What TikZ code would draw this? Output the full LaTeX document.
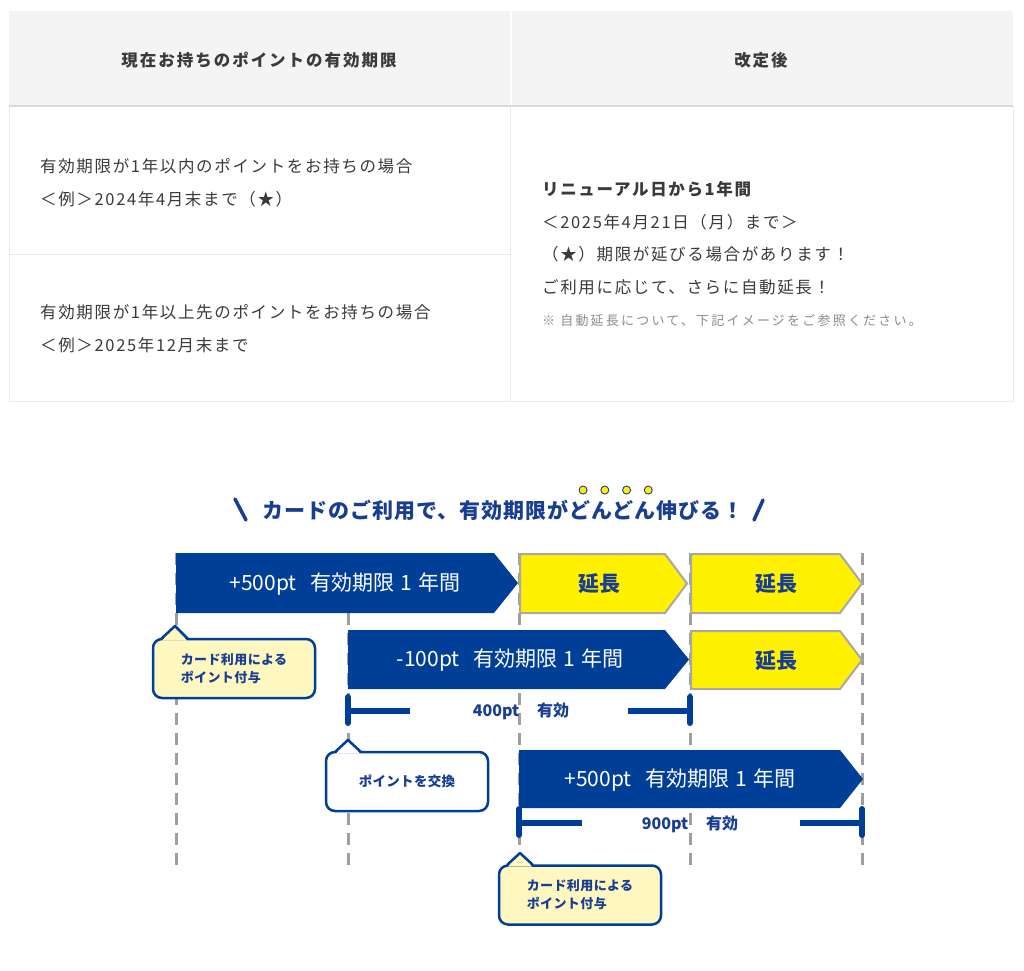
\documentclass[tikz,border=0pt]{standalone}
\usepackage{fontspec}
\setmainfont{Noto Sans CJK JP}
\usetikzlibrary{calc}
\definecolor{navy}{RGB}{0,63,152}
\definecolor{dblue}{RGB}{24,62,145}
\definecolor{ylw}{RGB}{255,241,0}
\definecolor{lylw}{RGB}{255,247,192}
\definecolor{ygray}{RGB}{168,168,168}
\definecolor{dgray}{RGB}{158,158,158}
\definecolor{txt}{RGB}{58,58,58}
\definecolor{notegray}{RGB}{140,140,140}
\definecolor{hdr}{RGB}{244,244,244}
\definecolor{bline}{RGB}{234,234,234}
\definecolor{hline}{RGB}{218,218,218}
\tikzset{
  tbl/.style={anchor=west, inner sep=0pt, text=txt, align=left,
    font=\fontsize{16.5}{33}\selectfont\addfontfeature{LetterSpace=10}},
  tblb/.style={tbl, font=\fontsize{16.5}{33}\selectfont\bfseries\addfontfeature{LetterSpace=10}},
  hdrtext/.style={inner sep=0pt, text=txt,
    font=\fontsize{16.5}{20}\selectfont\bfseries\addfontfeature{LetterSpace=12}},
  notetext/.style={anchor=west, inner sep=0pt, text=notegray,
    font=\fontsize{13}{16}\selectfont\addfontfeature{LetterSpace=17}},
  titletext/.style={anchor=west, inner sep=0pt, text=dblue,
    font=\fontsize{21}{24}\selectfont\bfseries\addfontfeature{LetterSpace=5}},
  blueshape/.style={fill=navy, draw=none},
  ylwshape/.style={fill=ylw, draw=ygray, line width=2pt, line join=miter},
  arrtext/.style={inner sep=0pt, text=white, font=\fontsize{21}{24}\selectfont},
  exttext/.style={inner sep=0pt, text=dblue, font=\fontsize{21}{24}\selectfont\bfseries},
  vline/.style={draw=dgray, line width=3pt, dash pattern=on 12pt off 8pt},
  bar/.style={draw=navy, line width=6pt},
  tick/.style={draw=navy, line width=6pt, line cap=round},
  spantext/.style={inner sep=0pt, text=dblue,
    font=\fontsize{16}{20}\selectfont\bfseries},
  callbox/.style={draw=navy, line width=2.5pt, rounded corners=9pt,
    minimum width=162pt, minimum height=59pt, inner sep=0pt, align=left,
    text=dblue, font=\fontsize{13}{18}\selectfont\bfseries\addfontfeature{LetterSpace=3}},
  callptr/.style={draw=navy, line width=2.5pt, line join=round},
  slash/.style={draw=dblue, line width=3.5pt, line cap=round},
  dot/.style={fill=ylw, draw=dblue, line width=0.9pt},
}
\begin{document}
\begin{tikzpicture}[x=1pt,y=-1pt]
\useasboundingbox (0,0) rectangle (1024,970);
\fill[white] (0,0) rectangle (1024,970);

% ---------- table ----------
\fill[hdr] (9,11) rectangle (509.5,106);
\fill[hdr] (511.5,11) rectangle (1013,106);
\draw[bline, line width=1pt] (9,106) rectangle (510.5,254);
\draw[bline, line width=1pt] (9,254) rectangle (510.5,401);
\draw[bline, line width=1pt] (510.5,106) rectangle (1013,401);
\draw[hline, line width=1.2pt] (9,106) -- (1013,106);

\node[hdrtext] (h1) at (259,60) {現在お持ちのポイントの有効期限};
\node[hdrtext] (h2) at (761,60) {改定後};

\node[tbl] (l1) at (40,182.5) {有効期限が1年以内のポイントをお持ちの場合\\＜例＞2024年4月末まで（★）};
\node[tbl] (l2) at (40,328.5) {有効期限が1年以上先のポイントをお持ちの場合\\＜例＞2025年12月末まで};

\node[tblb] (r1) at (542,189) {リニューアル日から1年間};
\node[tbl] (r2) at (542,222) {＜2025年4月21日（月）まで＞};
\node[tbl] (r3) at (542,254) {（★）期限が延びる場合があります！};
\node[tbl] (r4) at (542,287) {ご利用に応じて、さらに自動延長！};
\node[notetext] (r5) at (542,321) {※ 自動延長について、下記イメージをご参照ください。};

% ---------- title ----------
\draw[slash] (235,499) -- (246,520);
\node[titletext] (t1) at (262,510) {カードのご利用で、有効期限が};
\node[titletext, anchor=west] (t2) at (t1.east) {どんどん};
\node[titletext, anchor=west] (t3) at (t2.east) {伸びる！};
\draw[slash] (763,500) -- (754,520);
\foreach \k in {0.125,0.375,0.625,0.875}
  \path[dot] ($(t2.north west)!\k!(t2.north east)$) ++(3,-10) circle[radius=4pt];

% ---------- dashed guide lines ----------
\coordinate (g1t) at (176,553); \coordinate (g1b) at (176,870);
\coordinate (g2t) at (348,613); \coordinate (g2b) at (348,870);
\coordinate (g3t) at (519,553); \coordinate (g3b) at (519,870);
\coordinate (g4t) at (690,553); \coordinate (g4b) at (690,870);
\coordinate (g5t) at (862,553); \coordinate (g5b) at (862,870);
\draw[vline] (g1t) -- (g1b);
\draw[vline] (g2t) -- (g2b);
\draw[vline] (g3t) -- (g3b);
\draw[vline] (g4t) -- (g4b);
\draw[vline] (g5t) -- (g5b);

% ---------- row 1 ----------
\path[blueshape] (176,553) -- (494,553) -- (518,583) -- (494,613) -- (176,613) -- cycle;
\node[arrtext] (a1) at (345,584) {+500pt\hspace{14pt}有効期限\hspace{6pt}1\hspace{6pt}年間};
\path[ylwshape] (520,554) -- (665,554) -- (687,583.5) -- (665,613) -- (520,613) -- cycle;
\node[exttext] (e1) at (599,584) {延長};
\path[ylwshape] (691,554) -- (840,554) -- (862,583.5) -- (840,613) -- (691,613) -- cycle;
\node[exttext] (e2) at (776,584) {延長};

% ---------- row 2 ----------
\path[blueshape] (348,630) -- (665,630) -- (689,659.5) -- (665,689) -- (348,689) -- cycle;
\node[arrtext] (a2) at (510,660) {-100pt\hspace{14pt}有効期限\hspace{6pt}1\hspace{6pt}年間};
\path[ylwshape] (691,631) -- (840,631) -- (862,660) -- (840,689) -- (691,689) -- cycle;
\node[exttext] (e3) at (776,661) {延長};

\coordinate (s1a) at (348,697); \coordinate (s1b) at (348,723);
\coordinate (s1c) at (690,697); \coordinate (s1d) at (690,723);
\draw[tick] (s1a) -- (s1b);
\draw[tick] (s1c) -- (s1d);
\draw[bar] (348,711) -- (410,711);
\draw[bar] (628,711) -- (690,711);
\node[spantext] (p1) at (521,711) {400pt\hspace{18pt}有効};

% ---------- row 3 ----------
\path[blueshape] (519,750) -- (840,750) -- (863,779) -- (840,808) -- (519,808) -- cycle;
\node[arrtext] (a3) at (680,780) {+500pt\hspace{14pt}有効期限\hspace{6pt}1\hspace{6pt}年間};

\coordinate (s2a) at (519,809); \coordinate (s2b) at (519,835);
\coordinate (s2c) at (862,809); \coordinate (s2d) at (862,835);
\draw[tick] (s2a) -- (s2b);
\draw[tick] (s2c) -- (s2d);
\draw[bar] (519,823) -- (582,823);
\draw[bar] (800,823) -- (862,823);
\node[spantext] (p2) at (690,824) {900pt\hspace{18pt}有効};

% ---------- callouts ----------
\node[callbox, fill=lylw] (c1) at (234,668.5) {カード利用による\\ポイント付与};
\fill[lylw] (162,640.5) -- (175,627) -- (187,640.5) -- cycle;
\draw[callptr] (161,639) -- (175,626) -- (188,639);

\node[callbox, fill=white, font=\fontsize{13.5}{18}\selectfont\bfseries\addfontfeature{LetterSpace=2}] (c2) at (407,781.5) {ポイントを交換};
\fill[white] (336,753.5) -- (348,741) -- (360,753.5) -- cycle;
\draw[callptr] (335,752) -- (348,740) -- (361,752);

\node[callbox, fill=lylw] (c3) at (580,895) {カード利用による\\ポイント付与};
\fill[lylw] (508,866.5) -- (520,854) -- (532,866.5) -- cycle;
\draw[callptr] (507,865) -- (520,853) -- (533,865);

\end{tikzpicture}
\end{document}
